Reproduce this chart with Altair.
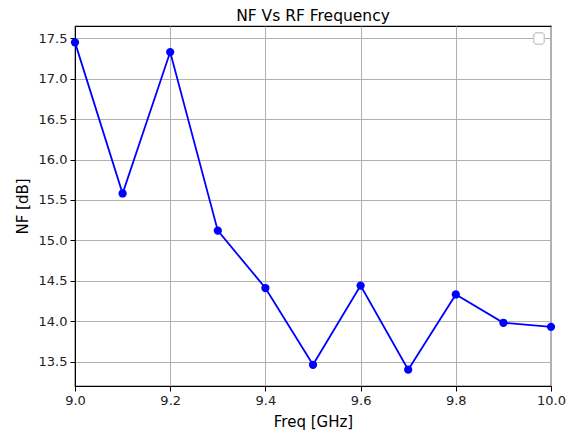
import altair as alt
import pandas as pd

freq = [9.0, 9.1, 9.2, 9.3, 9.4, 9.5, 9.6, 9.7, 9.8, 9.9, 10.0]
nf = [17.45, 15.58, 17.33, 15.12, 14.41, 13.46, 14.44, 13.40, 14.33, 13.98, 13.93]
x_ticks = [9.0, 9.2, 9.4, 9.6, 9.8, 10.0]
y_ticks = [13.5, 14.0, 14.5, 15.0, 15.5, 16.0, 16.5, 17.0, 17.5]

df = pd.DataFrame({"freq": freq, "nf": nf})
FONT = "DejaVu Sans"

x = alt.X("freq:Q", title="Freq [GHz]",
          scale=alt.Scale(domain=[9.0, 10.0], nice=False, zero=False),
          axis=alt.Axis(values=x_ticks, format=".1f", grid=True, gridColor="#b0b0b0",
                        gridWidth=1, domainColor="black", tickColor="black", tickSize=5,
                        labelFlush=False, labelOverlap=False,
                        labelFontSize=13, labelColor="#222", labelFont=FONT,
                        titleFont=FONT, titleFontSize=15, titleFontWeight="normal",
                        titleColor="black", labelPadding=3, titlePadding=7))
y = alt.Y("nf:Q", title="NF [dB]",
          scale=alt.Scale(domain=[13.1975, 17.6525], nice=False, zero=False),
          axis=alt.Axis(values=y_ticks, format=".1f", grid=True, gridColor="#b0b0b0",
                        gridWidth=1, domainColor="black", tickColor="black", tickSize=5,
                        labelFlush=False, labelOverlap=False,
                        labelFontSize=13, labelColor="#222", labelFont=FONT,
                        titleFont=FONT, titleFontSize=15, titleFontWeight="normal",
                        titleColor="black", labelPadding=3, titlePadding=8))

line = alt.Chart(df).mark_line(color="#0000ff", strokeWidth=1.8).encode(x=x, y=y)
pts = alt.Chart(df).mark_circle(color="#0000ff", size=68, opacity=1).encode(x=x, y=y)

legend_box = alt.Chart(df).mark_rect(
    fill="white", stroke="#cccccc", strokeWidth=1, cornerRadius=2
).encode(x=alt.value(459), x2=alt.value(469), y=alt.value(7), y2=alt.value(18))

chart = alt.layer(line, pts, legend_box).properties(
    width=476, height=360,
    title=alt.TitleParams("NF Vs RF Frequency", font=FONT, fontSize=15.5,
                          fontWeight="normal", color="black", offset=2),
    autosize=alt.AutoSizeParams(type="none"),
    padding={"left": 67, "top": 18, "right": 15, "bottom": 45},
).configure_view(stroke="black", strokeWidth=1.2)

chart.save("out.html", embed_options={"renderer": "svg", "actions": False})
